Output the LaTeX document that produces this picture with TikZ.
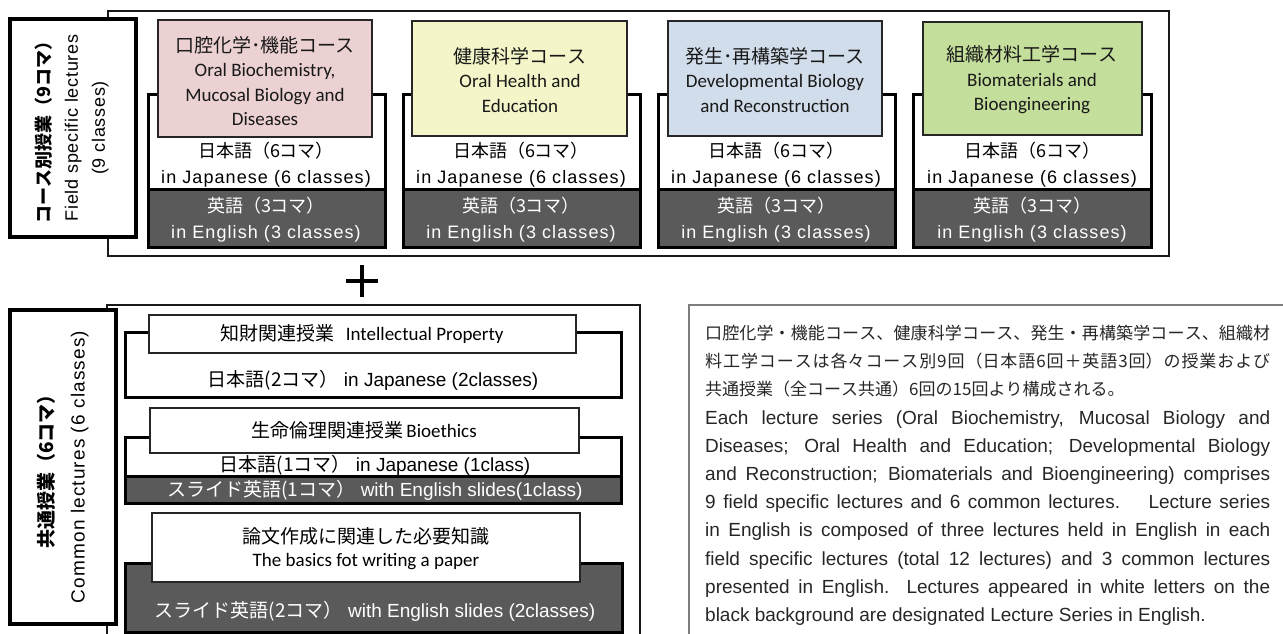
\documentclass[tikz,border=0pt]{standalone}
\usepackage{fontspec}
\setmainfont{Liberation Sans}
\newfontfamily\jpfont{Noto Sans CJK JP}
\newfontfamily\calfont{Carlito}
\newfontfamily\widefont{Liberation Sans}[LetterSpace=6]
\newfontfamily\labelfont{Liberation Sans}[LetterSpace=4]
\definecolor{pinkfill}{RGB}{235,209,210}
\definecolor{yellowfill}{RGB}{244,245,200}
\definecolor{bluefill}{RGB}{209,221,234}
\definecolor{greenfill}{RGB}{196,222,155}
\definecolor{darkfill}{RGB}{90,90,90}
\definecolor{notegray}{RGB}{125,125,125}

\begin{document}
\begin{tikzpicture}[x=1pt,y=-1pt,
  outerbox/.style={draw=black!90,line width=2},
  labelbox/.style={draw=black,line width=4,fill=white},
  bracketbox/.style={draw=black,line width=3,fill=white},
  darkbox/.style={draw=black,line width=3,fill=darkfill},
  coursebox/.style={draw=black!85,line width=2},
  titlebox/.style={draw=black!85,line width=2,fill=white},
  notebox/.style={draw=notegray,line width=1.5},
  labeltext/.style={rotate=90,align=center,inner sep=0,font=\fontsize{18}{27}\selectfont},
  coursetext/.style={align=center,inner sep=0,text=black!90,font=\fontsize{19}{24.5}\selectfont},
  rowtext/.style={align=center,inner sep=0,font=\widefont\fontsize{18}{26}\selectfont},
  darktext/.style={rowtext,text=white},
  commontext/.style={align=center,inner sep=0,font=\fontsize{19}{23}\selectfont},
  darkcommon/.style={commontext,text=white}]
\useasboundingbox (0,0) rectangle (1283,634);
%field specific lectures
\draw[outerbox] (108,11) rectangle (1169,256);
\draw[labelbox] (10,19) rectangle (136,237);
\node[labeltext] (fieldlabel) at (72,128) {{\jpfont\bfseries コース別授業（9コマ）}\\{\labelfont Field specific lectures}\\{\labelfont (9 classes)}};
%course 1
\draw[bracketbox] (148,95) rectangle (385,247);
\draw[darkbox] (148,189) rectangle (385,247);
\draw[coursebox,fill=pinkfill] (158,20) rectangle (372,137);
\node[coursetext] (oral) at (265,81) {{\jpfont 口腔化学･機能コース}\\{\calfont Oral Biochemistry,}\\{\calfont Mucosal Biology and}\\{\calfont Diseases}};
\node[rowtext] (oraljp) at (266,165) {{\jpfont 日本語（6コマ）}\\in Japanese (6 classes)};
\node[darktext] (oralen) at (266,220) {{\jpfont 英語（3コマ）}\\in English (3 classes)};
%course 2
\draw[bracketbox] (403,95) rectangle (640,247);
\draw[darkbox] (403,189) rectangle (640,247);
\draw[coursebox,fill=yellowfill] (412,21) rectangle (627,136);
\node[coursetext] (health) at (520,80) {{\jpfont 健康科学コース}\\{\calfont Oral Health and}\\{\calfont Education}};
\node[rowtext] (healthjp) at (521,165) {{\jpfont 日本語（6コマ）}\\in Japanese (6 classes)};
\node[darktext] (healthen) at (521,220) {{\jpfont 英語（3コマ）}\\in English (3 classes)};
%course 3
\draw[bracketbox] (658,95) rectangle (895,247);
\draw[darkbox] (658,189) rectangle (895,247);
\draw[coursebox,fill=bluefill] (668,21) rectangle (882,136);
\node[coursetext] (devel) at (775,80) {{\jpfont 発生･再構築学コース}\\{\calfont Developmental Biology}\\{\calfont and Reconstruction}};
\node[rowtext] (develjp) at (776,165) {{\jpfont 日本語（6コマ）}\\in Japanese (6 classes)};
\node[darktext] (develen) at (776,220) {{\jpfont 英語（3コマ）}\\in English (3 classes)};
%course 4
\draw[bracketbox] (913,95) rectangle (1151,247);
\draw[darkbox] (913,189) rectangle (1151,247);
\draw[coursebox,fill=greenfill] (923,22) rectangle (1142,135);
\node[coursetext] (bioeng) at (1032,80) {{\jpfont 組織材料工学コース}\\{\calfont Biomaterials and}\\{\calfont Bioengineering}};
\node[rowtext] (bioengjp) at (1032,165) {{\jpfont 日本語（6コマ）}\\in Japanese (6 classes)};
\node[darktext] (bioengen) at (1032,220) {{\jpfont 英語（3コマ）}\\in English (3 classes)};
%plus
\draw[line width=4.5] (346,281) -- (378,281);
\draw[line width=4.5] (362,265) -- (362,297);
%common lectures
\draw[outerbox] (107,640) -- (107,305) -- (640,305) -- (640,640);
\draw[labelbox] (10,310) rectangle (116,624);
\node[labeltext,font=\fontsize{19}{31}\selectfont] (commonlabel) at (63,467) {{\jpfont\bfseries 共通授業（6コマ）}\\{\widefont Common lectures (6 classes)}};
%intellectual property
\draw[bracketbox] (125,332) rectangle (621,397);
\draw[titlebox] (149,315) rectangle (576,353);
\node[commontext] (ip) at (362,334) {{\jpfont 知財関連授業}\hspace{0.6em}{\calfont Intellectual Property}};
\node[commontext] (ipjp) at (373,380) {{\jpfont 日本語(2コマ）} in Japanese (2classes)};
%bioethics
\draw[bracketbox] (125,437) rectangle (621,503);
\draw[darkbox] (125,476) rectangle (621,503);
\draw[titlebox] (150,408) rectangle (579,453);
\node[commontext] (ethics) at (364,430) {{\jpfont 生命倫理関連授業}\,{\calfont Bioethics}};
\node[commontext] (ethicsjp) at (375,465) {{\jpfont 日本語(1コマ）} in Japanese (1class)};
\node[darkcommon] (ethicsen) at (375,490) {{\jpfont スライド英語(1コマ）} with English slides(1class)};
%paper writing
\draw[darkbox] (125,563) rectangle (622,632);
\draw[titlebox] (152,513) rectangle (580,582);
\node[commontext,font=\fontsize{19}{23}\selectfont] (paper) at (366,549) {{\jpfont 論文作成に関連した必要知識}\\{\calfont The basics fot writing a paper}};
\node[darkcommon] (paperen) at (375,611) {{\jpfont スライド英語(2コマ）} with English slides (2classes)};
%explanation
\draw[notebox] (689,650) -- (689,305) -- (1300,305);
\node[anchor=north west,text width=565pt,align=justify,inner sep=0,text=black!85,
  font=\fontsize{19}{28.2}\selectfont] (note) at (705,325) {%
{\jpfont\fontsize{17}{28.2}\selectfont\XeTeXlinebreaklocale "ja"\XeTeXlinebreakskip=0pt plus 3pt
口腔化学・機能コース、健康科学コース、発生・再構築学コース、組織材\linebreak
料工学コースは各々コース別9回（日本語6回＋英語3回）の授業および\linebreak
共通授業（全コース共通）6回の15回より構成される。\par}
Each lecture series (Oral Biochemistry, Mucosal Biology and\linebreak
Diseases; Oral Health and Education; Developmental Biology\linebreak
and Reconstruction; Biomaterials and Bioengineering) comprises\linebreak
9 field specific lectures and 6 common lectures.\hspace{1.5em}Lecture series\linebreak
in English is composed of three lectures held in English in each\linebreak
field specific lectures (total 12 lectures) and 3 common lectures\linebreak
presented in English. Lectures appeared in white letters on the\linebreak
black background are designated Lecture Series in English.};
\end{tikzpicture}
\end{document}
